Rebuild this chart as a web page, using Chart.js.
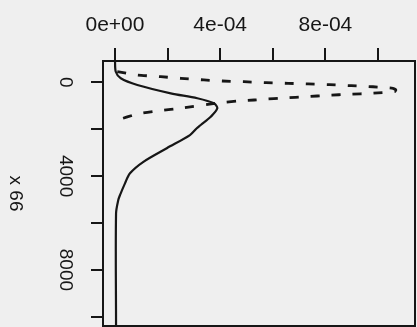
<!DOCTYPE html>
<html>
<head>
<meta charset="utf-8">
<script src="https://cdn.jsdelivr.net/npm/chart.js@4/dist/chart.umd.min.js"></script>
<style>
  html, body { margin: 0; padding: 0; background: #efefef; }
  #wrap { width: 417px; height: 327px; }
</style>
</head>
<body>
<div id="wrap"><canvas id="chart" width="417" height="327"></canvas></div>
<script>
// density on the top axis, depth running down the left axis
const xTicks = [0, 0.0002, 0.0004, 0.0006, 0.0008, 0.001];
const xLabels = ['0e+00', '', '4e-04', '', '8e-04', ''];
const yTicks = [0, 2000, 4000, 6000, 8000, 10000];
const yLabels = ['0', '', '4000', '', '8000', ''];
const yTitle = 'x 66';

// solid curve
const solidDepth = [-950, -450, -170, 115, 470, 680, 895, 1110, 1470, 1820, 1960, 2250, 2810, 3390, 3880, 4310, 4810, 5020, 5590, 10400];
const solidDensity = [0, 0.000003, 0.000022, 0.000085, 0.000212, 0.000313, 0.000376, 0.000389, 0.000364, 0.000326, 0.000311, 0.000285, 0.000197, 0.000108, 0.000057, 0.000038, 0.000019, 0.0000125, 0.000004, 0.000004];

// dashed curve
const dashDepth = [-450, -310, -240, -170, -100, -55, -25, 15, 45, 70, 100, 145, 190, 255, 330, 400, 470, 510, 555, 615, 670, 725, 755, 800, 870, 1085, 1225, 1350, 1610];
const dashDensity = [0.0000087, 0.000085, 0.000174, 0.00025, 0.000338, 0.000408, 0.00049, 0.000575, 0.000658, 0.000734, 0.000816, 0.000898, 0.000981, 0.001057, 0.001068, 0.001063, 0.000975, 0.000892, 0.00081, 0.000727, 0.000645, 0.000563, 0.000529, 0.000465, 0.000402, 0.000262, 0.000161, 0.000085, 0.0000087];

const ink = '#161616';
const font = 'Liberation Sans, Arial, Helvetica, sans-serif';

const toPoints = (xs, ys) => xs.map((v, i) => ({ x: v, y: ys[i] }));

// box round the plot and the rotated axis title
const framePlugin = {
  id: 'frame',
  afterDraw(chart) {
    const { ctx, chartArea: a } = chart;
    ctx.save();
    ctx.strokeStyle = ink;
    ctx.lineWidth = 2;
    ctx.strokeRect(a.left, a.top, a.right - a.left, a.bottom - a.top);
    ctx.translate(15, (a.top + a.bottom) / 2);
    ctx.rotate(Math.PI / 2);
    ctx.fillStyle = ink;
    ctx.font = '19px ' + font;
    ctx.textAlign = 'center';
    ctx.textBaseline = 'middle';
    ctx.fillText(yTitle, 0, 0);
    ctx.restore();
  }
};

new Chart(document.getElementById('chart').getContext('2d'), {
  type: 'scatter',
  data: {
    datasets: [{
      data: toPoints(solidDensity, solidDepth),
      showLine: true,
      borderColor: ink,
      borderWidth: 2.2,
      pointRadius: 0,
      tension: 0.3
    }, {
      data: toPoints(dashDensity, dashDepth),
      showLine: true,
      borderColor: ink,
      borderWidth: 2.8,
      borderDash: [9, 12],
      pointRadius: 0,
      tension: 0.15
    }]
  },
  options: {
    responsive: false,
    animation: false,
    devicePixelRatio: 1,
    layout: { padding: { top: 0, left: 0, right: 2, bottom: 1 } },
    plugins: { legend: { display: false }, tooltip: { enabled: false } },
    scales: {
      x: {
        type: 'linear',
        position: 'top',
        min: -0.0000456,
        max: 0.0011407,
        afterBuildTicks: s => { s.ticks = xTicks.map(v => ({ value: v })); },
        afterFit: s => { s.height = 61; s.paddingLeft = 0; s.paddingRight = 0; },
        grid: { drawOnChartArea: false, tickLength: 13, color: ink, lineWidth: 2 },
        border: { display: false },
        ticks: {
          color: ink,
          padding: 10,
          maxRotation: 0,
          autoSkip: false,
          font: { family: font, size: 21 },
          callback: (v, i) => xLabels[i]
        }
      },
      y: {
        type: 'linear',
        reverse: true,
        min: -908,
        max: 10391,
        afterBuildTicks: s => { s.ticks = yTicks.map(v => ({ value: v })); },
        afterFit: s => { s.width = 103; s.paddingTop = 0; s.paddingBottom = 0; },
        grid: { drawOnChartArea: false, tickLength: 12, color: ink, lineWidth: 2 },
        border: { display: false },
        ticks: {
          color: ink,
          padding: 5,
          minRotation: -90,
          maxRotation: -90,
          crossAlign: 'center',
          autoSkip: false,
          font: { family: font, size: 19 },
          callback: (v, i) => yLabels[i]
        }
      }
    }
  },
  plugins: [framePlugin]
});
</script>
</body>
</html>
